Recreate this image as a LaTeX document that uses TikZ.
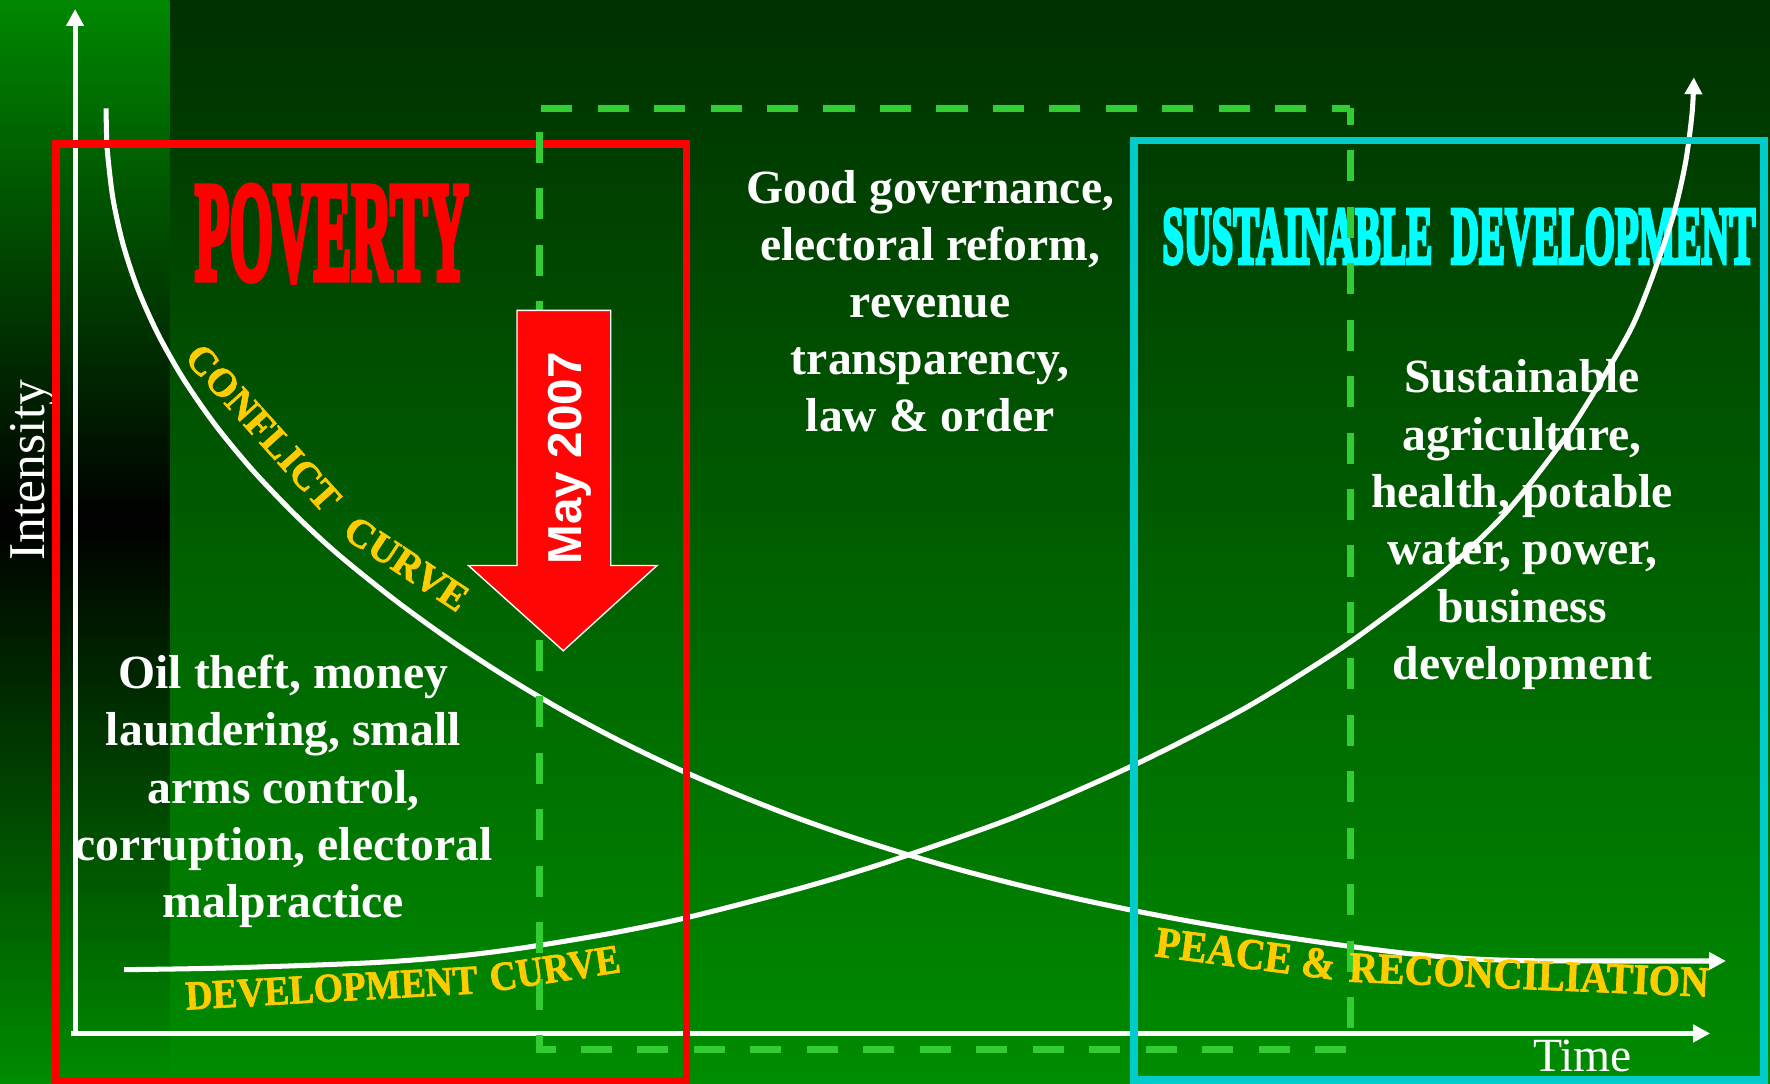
\documentclass[tikz,border=0pt]{standalone}
\usepackage{graphicx}
\usepackage{fontspec}
\setmainfont{Liberation Serif}
\setsansfont{Liberation Sans}
\newfontfamily\heavyserif{Liberation Serif}[BoldFeatures={FakeBold=1.6}]
\newfontfamily\posterserif{Liberation Serif}[BoldFeatures={FakeBold=5.5}]
\usetikzlibrary{arrows.meta}
\definecolor{bgtop}{RGB}{0,48,0}
\definecolor{bgbot}{RGB}{0,140,0}
\definecolor{striptop}{RGB}{0,136,0}
\definecolor{stripbot}{RGB}{0,140,0}
\definecolor{boxred}{RGB}{255,0,0}
\definecolor{boxcyan}{RGB}{0,204,204}
\definecolor{titlecyan}{RGB}{0,255,255}
\definecolor{dashgreen}{RGB}{50,205,50}
\definecolor{labelyellow}{RGB}{255,204,0}
\definecolor{arrowred}{RGB}{255,5,5}
\begin{document}
\begin{tikzpicture}[x=0.01cm, y=-0.01cm,
  whiteline/.style={draw=white, line width=1.27pt},
  tipped/.style={-{Triangle[length=1.5mm, width=1.5mm]}},
  redbox/.style={draw=boxred, line width=1.93pt},
  cyanbox/.style={draw=boxcyan, line width=1.93pt},
  dashbox/.style={draw=dashgreen, line width=1.76pt, dash pattern=on 2.75mm off 2.25mm, dash phase=1.3mm},
  body/.style={text=white, font=\fontsize{12}{14.4}\selectfont\bfseries, anchor=base, inner sep=0pt},
  curvelabel/.style={text=labelyellow, font=\fontsize{10}{12}\selectfont\heavyserif\bfseries, inner sep=0pt},
  axislabel/.style={text=white, font=\fontsize{12}{14.4}\selectfont, anchor=base, inner sep=0pt},
]
\useasboundingbox (0,0) rectangle (1568,960);
% background
\shade[top color=bgtop, bottom color=bgbot] (0,0) rectangle (1568,960);
\shade[top color=striptop, bottom color=black] (0,0) rectangle (150,460);
\shade[top color=black, bottom color=stripbot] (0,460) rectangle (150,960);

% titles
\node[anchor=base west, inner sep=0pt, text=boxred, font=\posterserif\bfseries] (poverty) at (172,247)
  {\resizebox{24.2mm}{8.2mm}{POVERTY}};
\node[anchor=base west, inner sep=0pt, text=titlecyan, font=\posterserif\bfseries] (sustdev) at (1029,233)
  {\resizebox{23.9mm}{4.75mm}{SUSTAINABLE}\hspace{1.65mm}\resizebox{26.95mm}{4.75mm}{DEVELOPMENT}};

% body texts
\foreach \txt [count=\i] in {{Good governance,},{electoral reform,},{revenue},{transparency,},{law \& order}}
  \node[body] (mid\i) at (824,{180+50.6*(\i-1)}) {\txt};
\foreach \txt [count=\i] in {{Oil theft, money},{laundering, small},{arms control,},{corruption, electoral},{malpractice}}
  \node[body] (left\i) at (251,{610+50.8*(\i-1)}) {\txt};
\foreach \txt [count=\i] in {{Sustainable},{agriculture,},{health, potable},{water, power,},{business},{development}}
  \node[body] (right\i) at (1348.5,{348+50.8*(\i-1)}) {\txt};

% axis labels
\node[axislabel, rotate=90, font=\fontsize{13}{15}\selectfont] (intensity) at (39,416.5) {Intensity};
\node[axislabel] (time) at (1402,949.6) {Time};

% axes
\coordinate (origin) at (66.5,918);
\coordinate (ytop) at (66.5,8);
\coordinate (xleft) at (63,915.5);
\coordinate (xright) at (1515,915.5);
\draw[whiteline, tipped] (origin) -- (ytop);
\draw[whiteline, tipped] (xleft) -- (xright);

% conflict curve
\draw[whiteline, tipped] plot[smooth, tension=0.5] coordinates {
  (94,96) (94.3,116) (95.3,136) (100.1,176) (108.9,216) (122.1,256) (140,296)
  (162.7,336) (190.4,376) (223.3,416) (261.5,456) (300,491.5) (350,531.7)
  (400,567.9) (450,600.6) (500,630.2) (550,656.8) (600,680.9) (650,702.6)
  (700,722.3) (750,740) (800,755.9) (850,770.4) (900,783.4) (950,795.2)
  (1000,805.8) (1050,815.4) (1100,824.1) (1150,831.9) (1200,838.9) (1250,845)
  (1300,849.2) (1350,851) (1420,851.3) (1529,851.3)};

% development curve
\draw[whiteline, tipped] plot[smooth, tension=0.5] coordinates {
  (110,859) (200,857.5) (326,853) (400,847.5) (461,840) (540,827) (608,813)
  (694,791) (750,775) (804.6,757.4) (901,723) (1004,678) (1100,629) (1178,581)
  (1222,550) (1282,504) (1335,453) (1384,391) (1418,338) (1445,291) (1462,250)
  (1482,192) (1493,145) (1499,100) (1500.5,68.5)};

% boxes
\draw[redbox] (49.6,127.6) rectangle (608.3,958.5);
\draw[cyanbox] (1004.5,124.5) rectangle (1562.6,956.5);
\draw[dashbox] (1196,96) -- (1196,930) -- (477.5,930) -- (477.5,96) -- cycle;

% curve labels
\node[curvelabel, rotate=-48] (conflict) at (233,379) {CONFLICT};
\node[curvelabel, rotate=-33.4] (ccurve) at (360,499.5) {CURVE};
\node[curvelabel, anchor=base, rotate=3.2, font=\fontsize{9.4}{11}\selectfont\heavyserif\bfseries] (devel) at (294.3,887.2) {\scalebox{1}[1.1]{DEVELOPMENT}};
\node[curvelabel, anchor=base, rotate=8.7, font=\fontsize{9.4}{11}\selectfont\heavyserif\bfseries] (dcurve) at (493.3,869.8) {\scalebox{1}[1.1]{CURVE}};
\node[curvelabel, anchor=base, rotate=-7.5, font=\fontsize{10.2}{12}\selectfont\heavyserif\bfseries] (peace) at (1101.8,857.4) {\scalebox{1}[1.08]{PEACE \&}};
\node[curvelabel, anchor=base, rotate=-2.4, font=\fontsize{10.1}{12}\selectfont\heavyserif\bfseries] (recon) at (1354,876.3) {\scalebox{1}[1.08]{RECONCILIATION}};

% May 2007 arrow
\draw[draw=white, fill=arrowred, line width=0.35pt]
  (458,275) -- (541,275) -- (541,501) -- (582,501) -- (499,576.5) -- (415,501) -- (458,501) -- cycle;
\node[rotate=90, anchor=base, inner sep=0pt, text=white, font=\fontsize{12}{14}\selectfont\sffamily\bfseries] (may) at (515.5,406) {May 2007};
\end{tikzpicture}
\end{document}
